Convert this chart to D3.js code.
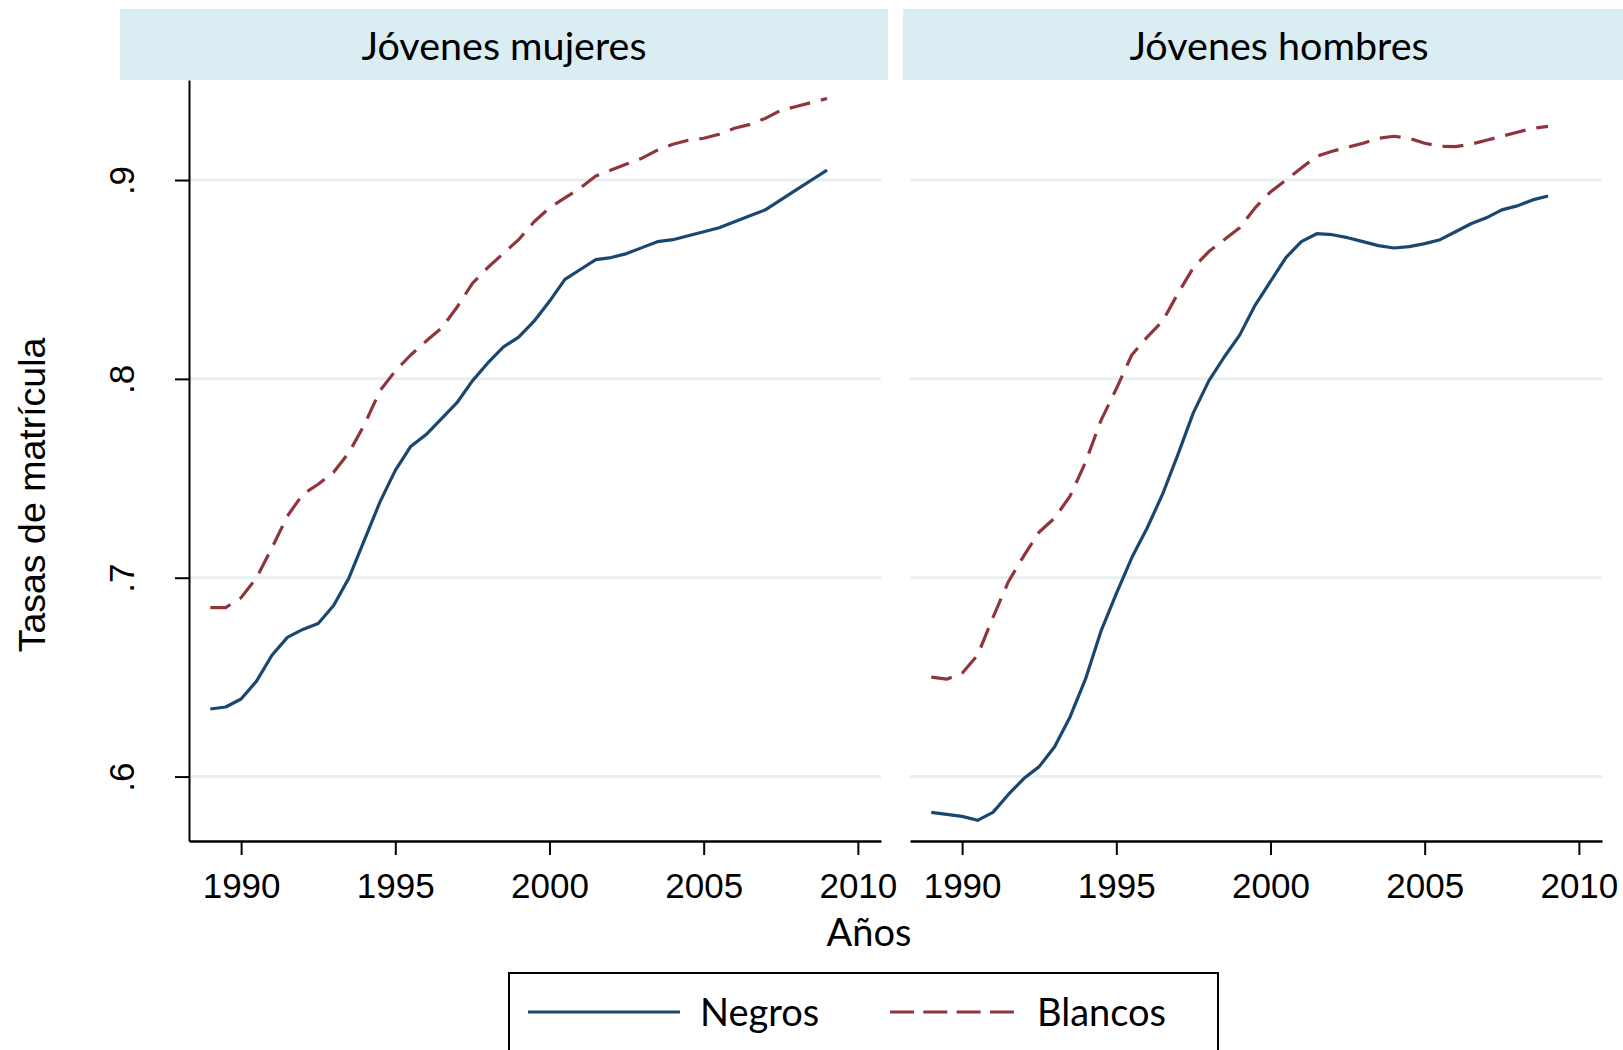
<!DOCTYPE html>
<html>
<head>
<meta charset="utf-8">
<script src="https://cdn.jsdelivr.net/npm/d3@7"></script>
<style>
  body { margin: 0; background: #fff; }
  svg { display: block; }
</style>
</head>
<body>
<script>
var W = 1623, H = 1050;

// half-year grid, 1989 - 2009
var years = [1989, 1989.5, 1990, 1990.5, 1991, 1991.5, 1992, 1992.5, 1993, 1993.5,
  1994, 1994.5, 1995, 1995.5, 1996, 1996.5, 1997, 1997.5, 1998, 1998.5,
  1999, 1999.5, 2000, 2000.5, 2001, 2001.5, 2002, 2002.5, 2003, 2003.5,
  2004, 2004.5, 2005, 2005.5, 2006, 2006.5, 2007, 2007.5, 2008, 2008.5, 2009];

var mujeresNegros = [0.634, 0.635, 0.639, 0.648, 0.661, 0.670, 0.674, 0.677, 0.686, 0.700,
  0.719, 0.738, 0.754, 0.766, 0.772, 0.780, 0.788, 0.799, 0.808, 0.816,
  0.821, 0.829, 0.839, 0.850, 0.855, 0.860, 0.861, 0.863, 0.866, 0.869,
  0.870, 0.872, 0.874, 0.876, 0.879, 0.882, 0.885, 0.890, 0.895, 0.900, 0.905];

var mujeresBlancos = [0.685, 0.685, 0.690, 0.700, 0.715, 0.731, 0.742, 0.747, 0.753, 0.763,
  0.777, 0.794, 0.804, 0.812, 0.819, 0.8255, 0.836, 0.848, 0.856, 0.863,
  0.870, 0.879, 0.886, 0.891, 0.896, 0.902, 0.905, 0.908, 0.911, 0.915,
  0.918, 0.920, 0.921, 0.923, 0.926, 0.928, 0.931, 0.935, 0.937, 0.939, 0.941];

var hombresNegros = [0.582, 0.581, 0.580, 0.578, 0.582, 0.591, 0.599, 0.605, 0.615, 0.630,
  0.649, 0.673, 0.692, 0.710, 0.725, 0.742, 0.762, 0.783, 0.799, 0.811,
  0.822, 0.837, 0.849, 0.861, 0.869, 0.873, 0.8725, 0.871, 0.869, 0.867,
  0.8658, 0.8665, 0.868, 0.870, 0.874, 0.878, 0.881, 0.885, 0.887, 0.890, 0.892];

var hombresBlancos = [0.650, 0.649, 0.652, 0.661, 0.680, 0.698, 0.711, 0.723, 0.730, 0.741,
  0.758, 0.779, 0.795, 0.812, 0.821, 0.829, 0.843, 0.856, 0.864, 0.870,
  0.876, 0.886, 0.894, 0.900, 0.906, 0.912, 0.9145, 0.9165, 0.9185, 0.921,
  0.922, 0.921, 0.9185, 0.917, 0.9168, 0.918, 0.920, 0.922, 0.924, 0.926, 0.927];

var panelTitles = ["Jóvenes mujeres", "Jóvenes hombres"];
var seriesNames = ["Negros", "Blancos"];
var xTicks = [1990, 1995, 2000, 2005, 2010];
var yTicks = [0.6, 0.7, 0.8, 0.9];

var navy = "#1a476f", maroon = "#90353b";
var gridColor = "#e8eff1", stripColor = "#daedf3";
var sansFont = "'Liberation Sans', Arial, sans-serif";
var labelFont = "Lato, 'Open Sans', sans-serif";

var svg = d3.select("body").append("svg")
  .attr("width", W)
  .attr("height", H);

svg.append("rect").attr("width", W).attr("height", H).attr("fill", "#fff");

var plotTop = 80, plotBottom = 841, plotW = 692;

var x = d3.scaleLinear().domain([1988.31, 2010.75]).range([0, plotW]);
var y = d3.scaleLinear().domain([0.5676, 0.9503]).range([plotBottom - plotTop, 0]);

var panels = [
  { title: panelTitles[0], left: 189, strip: [120, 888], textX: 504, negros: mujeresNegros, blancos: mujeresBlancos, yAxis: true },
  { title: panelTitles[1], left: 910, strip: [903, 1655], textX: 1279, negros: hombresNegros, blancos: hombresBlancos, yAxis: false }
];

var line = d3.line()
  .x(function(d, i) { return x(years[i]); })
  .y(function(d) { return y(d); });

panels.forEach(function(p) {
  // header strip
  svg.append("rect")
    .attr("x", p.strip[0]).attr("y", 9)
    .attr("width", p.strip[1] - p.strip[0]).attr("height", 71)
    .attr("fill", stripColor);
  svg.append("text")
    .attr("x", p.textX).attr("y", 60)
    .attr("text-anchor", "middle")
    .style("font-family", labelFont).style("font-size", "39.5px")
    .text(p.title);

  var g = svg.append("g").attr("transform", "translate(" + p.left + "," + plotTop + ")");

  // gridlines
  g.selectAll(".grid").data(yTicks).enter().append("line")
    .attr("x1", 0).attr("x2", plotW)
    .attr("y1", function(d) { return y(d); })
    .attr("y2", function(d) { return y(d); })
    .attr("stroke", gridColor).attr("stroke-width", 3);

  // x axis
  var xa = g.append("g")
    .attr("transform", "translate(0," + (plotBottom - plotTop) + ")")
    .call(d3.axisBottom(x).tickValues(xTicks).tickFormat(d3.format("d")).tickSize(14).tickSizeOuter(0));
  xa.select(".domain").attr("stroke-width", 2.5);
  xa.selectAll(".tick line").attr("stroke-width", 2);
  xa.selectAll(".tick text")
    .attr("y", 57).attr("dy", null)
    .style("font-family", sansFont).style("font-size", "35px").attr("fill", "#000");

  if (p.yAxis) {
    var ya = g.append("g")
      .call(d3.axisLeft(y).tickValues(yTicks)
        .tickFormat(function(d) { return d3.format(".1f")(d).replace(/^0/, ""); })
        .tickSize(14).tickSizeOuter(0));
    ya.select(".domain").attr("stroke-width", 2);
    ya.selectAll(".tick line").attr("stroke-width", 2);
    ya.selectAll(".tick text")
      .attr("x", null).attr("dy", null)
      .attr("text-anchor", "middle")
      .attr("transform", "translate(-55,0) rotate(-90)")
      .style("font-family", sansFont).style("font-size", "35px").attr("fill", "#000");
  }

  g.append("path").datum(p.negros)
    .attr("d", line).attr("fill", "none")
    .attr("stroke", navy).attr("stroke-width", 3.2).attr("stroke-linejoin", "round");
  g.append("path").datum(p.blancos)
    .attr("d", line).attr("fill", "none")
    .attr("stroke", maroon).attr("stroke-width", 3.2).attr("stroke-linejoin", "round")
    .attr("stroke-dasharray", "21,11");
});

// axis titles
svg.append("text")
  .attr("transform", "translate(45,495) rotate(-90)")
  .attr("text-anchor", "middle")
  .style("font-family", sansFont).style("font-size", "37.5px")
  .text("Tasas de matrícula");

svg.append("text")
  .attr("x", 869).attr("y", 946)
  .attr("text-anchor", "middle")
  .style("font-family", labelFont).style("font-size", "38px")
  .text("Años");

// legend
var lg = svg.append("g");
lg.append("rect")
  .attr("x", 509).attr("y", 973).attr("width", 709).attr("height", 110)
  .attr("fill", "#fff").attr("stroke", "#000").attr("stroke-width", 2);
lg.append("line")
  .attr("x1", 528).attr("x2", 680).attr("y1", 1012).attr("y2", 1012)
  .attr("stroke", navy).attr("stroke-width", 3.2);
lg.append("text")
  .attr("x", 700).attr("y", 1026)
  .style("font-family", labelFont).style("font-size", "38px")
  .text(seriesNames[0]);
lg.append("line")
  .attr("x1", 890).attr("x2", 1014).attr("y1", 1012).attr("y2", 1012)
  .attr("stroke", maroon).attr("stroke-width", 3.2).attr("stroke-dasharray", "24,9.3");
lg.append("text")
  .attr("x", 1037).attr("y", 1026)
  .style("font-family", labelFont).style("font-size", "38px")
  .text(seriesNames[1]);
</script>
</body>
</html>
